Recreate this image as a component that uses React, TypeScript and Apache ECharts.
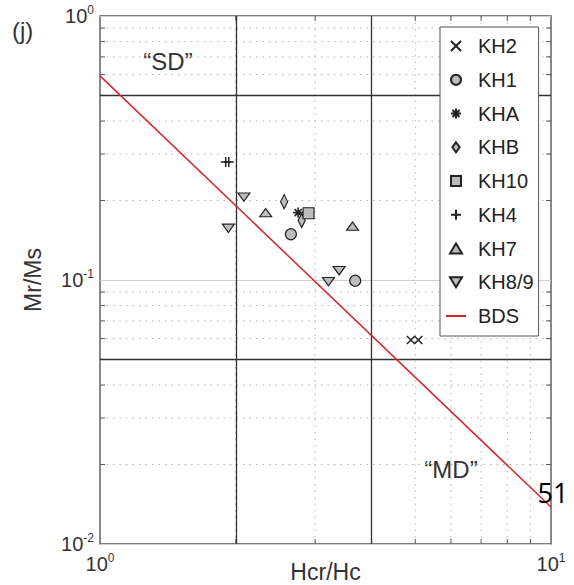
import React, { useEffect, useRef } from "react";
import * as echarts from "echarts";

// Hysteresis ratios (Hcr/Hc, Mr/Ms) per sample group
const KH2 = [[4.89, 0.0593], [5.08, 0.0593]];
const KH1 = [[2.65, 0.149], [3.68, 0.0994]];
const KHA = [[2.75, 0.18]];
const KHB = [[2.56, 0.198], [2.8, 0.168]];
const KH10 = [[2.9, 0.179]];
const KH4 = [[1.9, 0.28], [1.93, 0.28]];
const KH7 = [[2.33, 0.18], [3.63, 0.16]];
const KH89 = [[2.085, 0.206], [1.926, 0.157], [3.39, 0.1085], [3.21, 0.0986]];

// BDS reference line endpoints
const BDS = [[1, 0.593], [10, 0.0138]];

// Day plot domain boundaries
const boundaryX = [2, 4];
const boundaryY = [0.5, 0.05];

// Minor (log) grid positions
const xMinor = [2, 3, 4, 5, 6, 7, 8, 9];
const yMinor = [0.02, 0.03, 0.04, 0.05, 0.06, 0.07, 0.08, 0.09, 0.2, 0.3, 0.4, 0.5, 0.6, 0.7, 0.8, 0.9];

const X_MIN = 1, X_MAX = 10, Y_MIN = 0.01, Y_MAX = 1;

const FONT = "'Liberation Sans', Arial, Helvetica, sans-serif";
const FILL = "#bdbdbd";
const EDGE = "#222";
const TICK = 5;

const legendNames = ["KH2", "KH1", "KHA", "KHB", "KH10", "KH4", "KH7", "KH8/9", "BDS"];

const SYM_X = "path://M0,0L10,10M10,0L0,10";
const SYM_PLUS = "path://M5,0L5,10M0,5L10,5";
const SYM_STAR = "path://M5,0L5,10M0,5L10,5M1.5,1.5L8.5,8.5M8.5,1.5L1.5,8.5";
const SYM_UP = "path://M0,10L6,0L12,10Z";
const SYM_DOWN = "path://M0,0L12,0L6,10Z";
const SYM_DIAMOND = "path://M5,0L10,7L5,14L0,7Z";
const SYM_SQUARE = "path://M0,0L10,0L10,10L0,10Z";

function supLabel(v: number) {
  const e = Math.round(Math.log10(v));
  return `{a|10}{b|${e}}`;
}

const labelRich = {
  a: { fontSize: 20, fontFamily: FONT, color: "#333", lineHeight: 24 },
  b: { fontSize: 12, fontFamily: FONT, color: "#333", verticalAlign: "top", lineHeight: 14 },
};

export default function App() {
  const ref = useRef<HTMLDivElement>(null);

  useEffect(() => {
    if (!ref.current) return;
    const chart = echarts.init(ref.current, null, { renderer: "svg" });

    const scatter = (name: string, data: number[][], symbol: string, size: any, filled: boolean, bw = 1.2) => ({
      name,
      type: "scatter",
      data,
      symbol,
      symbolSize: size,
      symbolKeepAspect: true,
      itemStyle: {
        color: filled ? FILL : EDGE,
        borderColor: EDGE,
        borderWidth: bw,
        opacity: 1,
      },
      z: 5,
    });

    const option: any = {
      animation: false,
      backgroundColor: "#fff",
      grid: {
        left: 100,
        right: 23,
        top: 16,
        bottom: 41,
        outerBoundsMode: "none",
        containLabel: false,
        show: true,
        borderColor: "#555",
        borderWidth: 1.4,
        backgroundColor: "transparent",
      },
      xAxis: {
        type: "log",
        logBase: 10,
        min: X_MIN,
        max: X_MAX,
        name: "Hcr/Hc",
        nameLocation: "middle",
        nameGap: 16,
        nameMoveOverlap: false,
        nameTextStyle: { fontSize: 23, fontFamily: FONT, color: "#333", verticalAlign: "top" },
        axisLine: { show: false },
        axisTick: { show: false },
        splitLine: { show: false },
        axisLabel: {
          formatter: supLabel,
          rich: labelRich,
          margin: 8,
          showMinLabel: true,
          showMaxLabel: true,
        },
      },
      yAxis: {
        type: "log",
        logBase: 10,
        min: Y_MIN,
        max: Y_MAX,
        name: "Mr/Ms",
        nameLocation: "middle",
        nameRotate: 90,
        nameGap: 56,
        nameMoveOverlap: false,
        nameTextStyle: { fontSize: 23, fontFamily: FONT, color: "#333" },
        axisLine: { show: false },
        axisTick: { show: false },
        splitLine: { show: true, lineStyle: { color: "#cfcfcf", width: 1 } },
        axisLabel: {
          formatter: supLabel,
          rich: labelRich,
          margin: 6,
          showMinLabel: true,
          showMaxLabel: true,
        },
      },
      legend: {
        orient: "vertical",
        left: 440,
        top: 27,
        data: legendNames.map((n) => (n === "BDS" ? { name: n, itemStyle: { opacity: 0 } } : n)),
        selectedMode: false,
        symbolKeepAspect: true,
        itemWidth: 20,
        itemHeight: 10,
        itemGap: 13.75,
        padding: [9, 5, 10, 5],
        borderColor: "#555",
        borderWidth: 1,
        borderRadius: 0,
        backgroundColor: "#fff",
        textStyle: {
          fontSize: 20,
          fontFamily: FONT,
          color: "#222",
          lineHeight: 20,
          padding: [0, 0, 0, 7],
        },
        z: 10,
      },
      graphic: [
        { type: "text", left: 12, top: 18, style: { text: "(j)", fontSize: 24, fontFamily: FONT, fill: "#333" } },
        { type: "text", x: 168, y: 61, style: { text: "\u201cSD\u201d", fontSize: 24, fontFamily: FONT, fill: "#333", align: "center", verticalAlign: "middle" } },
        { type: "text", x: 451, y: 469, style: { text: "\u201cMD\u201d", fontSize: 24, fontFamily: FONT, fill: "#333", align: "center", verticalAlign: "middle" } },
        { type: "text", x: 553, y: 492, z: 100, style: { text: "51", fontSize: 27, fontFamily: "'Open Sans', 'Liberation Sans', sans-serif", fill: "#000", align: "center", verticalAlign: "middle" } },
      ],
      series: [
        // vertical minor grid lines + ticks on bottom and top edges
        {
          type: "custom",
          silent: true,
          z: 1,
          data: xMinor.map((v) => [v, Y_MIN]),
          renderItem: (_p: any, api: any) => {
            const x = api.value(0);
            const b = api.coord([x, Y_MIN]);
            const t = api.coord([x, Y_MAX]);
            return {
              type: "group",
              children: [
                { type: "line", shape: { x1: b[0], y1: b[1], x2: t[0], y2: t[1] }, style: { stroke: "#b5b5b5", lineWidth: 1, lineDash: [1.5, 5] } },
                { type: "line", shape: { x1: b[0], y1: b[1], x2: b[0], y2: b[1] - TICK }, style: { stroke: "#555", lineWidth: 1 } },
                { type: "line", shape: { x1: t[0], y1: t[1], x2: t[0], y2: t[1] + TICK }, style: { stroke: "#555", lineWidth: 1 } },
              ],
            };
          },
        },
        // horizontal minor grid lines + ticks on left and right edges
        {
          type: "custom",
          silent: true,
          z: 1,
          data: yMinor.map((v) => [X_MIN, v]),
          renderItem: (_p: any, api: any) => {
            const y = api.value(1);
            const l = api.coord([X_MIN, y]);
            const r = api.coord([X_MAX, y]);
            return {
              type: "group",
              children: [
                { type: "line", shape: { x1: l[0], y1: l[1], x2: r[0], y2: r[1] }, style: { stroke: "#b5b5b5", lineWidth: 1, lineDash: [1.5, 5] } },
                { type: "line", shape: { x1: l[0], y1: l[1], x2: l[0] + TICK, y2: l[1] }, style: { stroke: "#555", lineWidth: 1 } },
                { type: "line", shape: { x1: r[0], y1: r[1], x2: r[0] - TICK, y2: r[1] }, style: { stroke: "#555", lineWidth: 1 } },
              ],
            };
          },
        },
        {
          name: "BDS",
          type: "line",
          data: BDS,
          symbol: "none",
          lineStyle: { color: "#d9232a", width: 1.5 },
          itemStyle: { color: "#d9232a" },
          z: 4,
          markLine: {
            silent: true,
            symbol: "none",
            label: { show: false },
            lineStyle: { color: "#333", width: 1.3, type: "solid" },
            data: [
              ...boundaryX.map((v) => ({ xAxis: v })),
              ...boundaryY.map((v) => ({ yAxis: v })),
            ],
            z: 3,
          },
        },
        scatter("KH2", KH2, SYM_X, 8, false, 1.5),
        scatter("KH1", KH1, "circle", 11, true),
        scatter("KHA", KHA, SYM_STAR, 10, false, 1.6),
        scatter("KHB", KHB, SYM_DIAMOND, [10, 14], true),
        scatter("KH10", KH10, SYM_SQUARE, 11, true),
        scatter("KH4", KH4, SYM_PLUS, 10, false, 1.5),
        scatter("KH7", KH7, SYM_UP, [12, 10], true),
        scatter("KH8/9", KH89, SYM_DOWN, [12, 10], true),
      ],
    };

    chart.setOption(option);
    return () => chart.dispose();
  }, []);

  return <div ref={ref} style={{ width: 574, height: 585, position: "absolute", left: 0, top: 0 }} />;
}
